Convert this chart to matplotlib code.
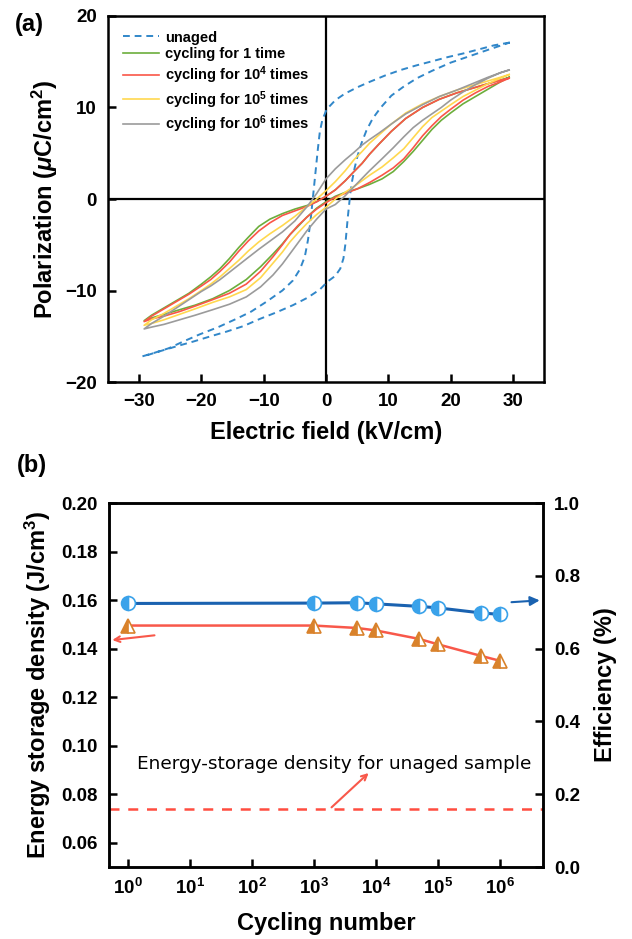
import numpy as np
import matplotlib
matplotlib.use('Agg')
import matplotlib.pyplot as plt

plt.rcParams['font.family'] = ['Liberation Sans', 'DejaVu Sans']
plt.rcParams['mathtext.fontset'] = 'custom'
plt.rcParams['mathtext.rm'] = 'Liberation Sans:bold'
plt.rcParams['mathtext.bf'] = 'Liberation Sans:bold'
plt.rcParams['mathtext.it'] = 'Liberation Sans:bold:italic'

# ---------------- (a) P-E loops ----------------
# unaged: descending branch, then ascending branch
E_unaged_dn = [29.5, 27.0, 24.8, 22.0, 19.5, 17.3, 14.5, 12.0, 9.5, 7.0, 5.0, 3.0, 1.5, 0.1, -0.6, -1.0, -1.3, -1.6,
               -1.9, -2.2, -2.5, -2.9, -3.4, -4.2, -5.3, -7.0, -9.5, -12.0, -14.4, -17.3, -20.3, -23.0, -25.2, -27.5, -29.5]
P_unaged_dn = [17.1, 16.8, 16.4, 15.9, 15.5, 15.1, 14.6, 14.1, 13.5, 12.8, 12.2, 11.5, 10.8, 9.8, 8.6, 7.3, 5.5, 3.5,
               1.5, -0.5, -2.5, -4.5, -6.3, -7.7, -8.9, -10.0, -11.2, -12.3, -13.1, -14.0, -14.8, -15.6, -16.3, -16.8, -17.2]
E_unaged_up = [-29.5, -28.4, -26.0, -23.5, -21.4, -18.5, -16.0, -13.3, -10.6, -8.0, -5.3, -3.0, -1.0, 0.3, 1.5, 2.3,
               2.8, 3.1, 3.3, 3.5, 3.7, 3.9, 4.2, 4.6, 5.1, 5.7, 6.5, 7.5, 8.8, 10.5, 12.5, 14.6, 17.0, 20.0, 23.0, 26.0, 29.5]
P_unaged_up = [-17.2, -17.0, -16.5, -16.0, -15.6, -15.0, -14.5, -13.9, -13.1, -12.4, -11.6, -10.8, -9.9, -9.0, -8.4, -7.6,
               -6.5, -5.0, -3.5, -2.0, -0.7, 0.6, 2.0, 3.4, 4.8, 6.1, 7.5, 8.8, 10.0, 11.3, 12.3, 13.2, 14.0, 14.9, 15.6, 16.3, 17.1]

# shared field readings for the slim loops
E_dn = [29.4, 28.0, 26.0, 23.5, 21.0, 18.2, 15.5, 12.8, 10.5, 8.5, 7.0, 5.8, 4.5, 3.1, 1.5, 0.0, -1.5, -3.0, -5.0, -7.0,
        -9.0, -10.8, -12.5, -14.0, -15.5, -17.0, -18.5, -20.0, -22.0, -24.0, -26.0, -28.0, -29.2]
E_up = [-29.2, -28.0, -26.0, -23.5, -21.0, -18.2, -15.5, -12.8, -10.5, -8.5, -7.0, -5.8, -4.5, -3.1, -1.5, 0.0, 1.5, 3.0,
        5.0, 7.0, 9.0, 10.8, 12.5, 14.0, 15.5, 17.0, 18.5, 20.0, 22.0, 24.0, 26.0, 28.0, 29.4]

# cycling for 1 time
P_g_dn = [13.3, 13.0, 12.6, 12.1, 11.6, 10.9, 10.0, 8.8, 7.4, 6.0, 4.9, 3.9, 3.0, 2.0, 1.0, 0.3, -0.3, -0.7, -1.1, -1.6,
          -2.2, -3.0, -4.2, -5.3, -6.5, -7.6, -8.5, -9.3, -10.3, -11.1, -11.9, -12.7, -13.3]
P_g_up = [-13.3, -13.0, -12.6, -12.1, -11.6, -10.9, -10.0, -8.8, -7.4, -6.0, -4.9, -3.9, -3.0, -2.0, -1.0, -0.3, 0.3, 0.7,
          1.1, 1.6, 2.2, 3.0, 4.1, 5.2, 6.4, 7.6, 8.6, 9.4, 10.4, 11.2, 12.0, 12.8, 13.3]

# cycling for 10^4 times
P_r_dn = [13.2, 13.0, 12.6, 12.1, 11.6, 10.9, 10.0, 8.8, 7.4, 6.0, 4.9, 3.9, 3.0, 2.0, 1.0, 0.3, -0.3, -0.8, -1.3, -1.8,
          -2.6, -3.5, -4.6, -5.7, -6.9, -7.9, -8.8, -9.5, -10.4, -11.2, -12.0, -12.8, -13.4]
P_r_up = [-13.4, -13.1, -12.8, -12.3, -11.7, -11.0, -10.3, -9.3, -7.9, -6.3, -5.0, -3.9, -2.9, -2.0, -1.1, -0.4, 0.2, 0.6,
          1.1, 1.8, 2.6, 3.4, 4.4, 5.6, 6.9, 8.0, 9.0, 9.8, 10.8, 11.6, 12.3, 12.8, 13.2]

# cycling for 10^5 times
P_y_dn = [13.6, 13.3, 12.9, 12.4, 11.9, 11.2, 10.4, 9.4, 8.2, 7.0, 6.1, 5.2, 4.3, 3.1, 1.9, 0.9, 0.0, -0.8, -1.9, -2.9,
          -3.8, -4.7, -5.7, -6.7, -7.6, -8.5, -9.3, -10.0, -10.9, -11.7, -12.5, -13.2, -13.8]
P_y_up = [-13.8, -13.6, -13.2, -12.6, -12.0, -11.3, -10.7, -9.9, -8.6, -7.0, -5.8, -4.7, -3.7, -2.7, -1.7, -0.9, 0.0, 0.7,
          1.6, 2.6, 3.5, 4.5, 5.5, 6.7, 7.9, 8.9, 9.6, 10.3, 11.2, 11.9, 12.6, 13.2, 13.6]

# cycling for 10^6 times
P_k_dn = [14.1, 13.8, 13.3, 12.6, 11.9, 11.2, 10.3, 9.3, 8.2, 7.2, 6.5, 5.9, 5.1, 4.3, 3.3, 2.2, 0.6, -0.8, -2.4, -3.6,
          -4.6, -5.5, -6.4, -7.2, -8.0, -8.8, -9.5, -10.1, -11.0, -11.9, -12.8, -13.6, -14.2]
P_k_up = [-14.2, -14.0, -13.7, -13.2, -12.7, -12.1, -11.5, -10.7, -9.6, -8.3, -7.1, -6.0, -4.8, -3.5, -2.2, -1.1, -0.6, 0.3,
          1.7, 3.1, 4.4, 5.6, 6.8, 7.8, 8.6, 9.3, 10.0, 10.8, 11.7, 12.5, 13.2, 13.8, 14.1]

# ---------------- (b) fatigue ----------------
cycles = [1, 1e3, 5e3, 1e4, 5e4, 1e5, 5e5, 1e6]
density = [0.1495, 0.1495, 0.1485, 0.1475, 0.1440, 0.1418, 0.1370, 0.1350]
efficiency = [0.724, 0.725, 0.726, 0.723, 0.716, 0.712, 0.698, 0.694]
density_unaged = 0.074

fig = plt.figure(figsize=(6.32, 9.39), dpi=100)

# ---- panel a
ax1 = fig.add_axes([108/632, 1-382/939, 436/632, 366/939])
ax1.plot(E_unaged_dn + E_unaged_up, P_unaged_dn + P_unaged_up, '--', color='#3187c9', lw=1.4,
         dashes=(3.5, 2.5), label='unaged')
ax1.plot(E_dn + E_up, P_g_dn + P_g_up, '-', color='#6cae3c', lw=1.2, label='cycling for 1 time')
ax1.plot(E_dn + E_up, P_r_dn + P_r_up, '-', color='#fa5648', lw=1.2, label='cycling for 10$^4$ times')
ax1.plot(E_dn + E_up, P_y_dn + P_y_up, '-', color='#ffd84f', lw=1.2, label='cycling for 10$^5$ times')
ax1.plot(E_dn + E_up, P_k_dn + P_k_up, '-', color='#9b9b9b', lw=1.2, label='cycling for 10$^6$ times')
ax1.axhline(0, color='black', lw=1.6, zorder=0)
ax1.axvline(0, color='black', lw=1.6, zorder=0)
ax1.set_xlim(-35, 35)
ax1.set_ylim(-20, 20)
ax1.set_xticks([-30, -20, -10, 0, 10, 20, 30])
ax1.set_xticklabels(['\u221230', '\u221220', '\u221210', '0', '10', '20', '30'])
ax1.set_yticks([-20, -10, 0, 10, 20])
ax1.set_yticklabels(['\u221220', '\u221210', '0', '10', '20'])
ax1.tick_params(direction='in', length=6, width=1.8, labelsize=13.5, pad=8)
for s in ax1.spines.values():
    s.set_linewidth(1.8)
for lab in ax1.get_xticklabels() + ax1.get_yticklabels():
    lab.set_fontweight('bold')
ax1.set_xlabel('Electric field (kV/cm)', fontsize=17, fontweight='bold', labelpad=8)
ax1.set_ylabel('Polarization ($\\mu$C/cm$^2$)', fontsize=17, fontweight='bold', labelpad=4)
leg = ax1.legend(loc='upper left', frameon=False, prop={'weight': 'bold', 'size': 10.5},
                 handlelength=2.5, labelspacing=0.2, borderaxespad=0.6, handletextpad=0.4)
fig.text(15/632, 1-25/939, '(a)', fontsize=17, fontweight='bold', va='center')

# ---- panel b
ax2 = fig.add_axes([109/632, 1-867/939, 434/632, 364/939])
ax3 = ax2.twinx()
ax2.plot(cycles, density, '-', color='#f8584a', lw=1.8, marker='^', ms=10,
         fillstyle='left', markerfacecolor='#d9822b', markerfacecoloralt='white',
         markeredgecolor='#d9822b', markeredgewidth=1.2, zorder=3)
ax2.axhline(density_unaged, color='#ff4d40', lw=1.8, ls=(0, (4, 3.5)))
ax3.plot(cycles, efficiency, '-', color='#1a62b0', lw=2.2, marker='o', ms=10,
         fillstyle='left', markerfacecolor='#3aa2ea', markerfacecoloralt='white',
         markeredgecolor='#3aa2ea', markeredgewidth=1.2, zorder=3)
ax2.set_xscale('log')
ax2.set_xlim(0.5, 5e6)
ax2.set_ylim(0.05, 0.20)
ax3.set_ylim(0, 1.0)
ax2.set_xticks([1, 10, 100, 1e3, 1e4, 1e5, 1e6])
ax2.set_xticklabels(['$\\mathbf{10^{%d}}$' % i for i in range(7)])
ax2.minorticks_off()
ax2.set_yticks([0.06, 0.08, 0.10, 0.12, 0.14, 0.16, 0.18, 0.20])
ax2.set_yticklabels(['0.06', '0.08', '0.10', '0.12', '0.14', '0.16', '0.18', '0.20'])
ax3.set_yticks([0, 0.2, 0.4, 0.6, 0.8, 1.0])
ax3.set_yticklabels(['0.0', '0.2', '0.4', '0.6', '0.8', '1.0'])
for a in (ax2, ax3):
    a.tick_params(direction='in', length=6, width=1.8, labelsize=13.5, pad=8)
    for s in a.spines.values():
        s.set_linewidth(1.8)
for lab in ax2.get_yticklabels() + ax3.get_yticklabels():
    lab.set_fontweight('bold')
ax2.set_xlabel('Cycling number', fontsize=17, fontweight='bold', labelpad=10)
ax2.set_ylabel('Energy storage density (J/cm$^3$)', fontsize=17, fontweight='bold', labelpad=6)
ax3.set_ylabel('Efficiency (%)', fontsize=17, fontweight='bold', labelpad=10)

ax2.text(1.4, 0.0926, 'Energy-storage density for unaged sample', fontsize=13.3,
         family=['DejaVu Sans'], va='center', ha='left')
ax2.annotate('', xy=(8300, 0.0895), xytext=(1800, 0.0738),
             arrowprops=dict(arrowstyle='->', color='#f8584a', lw=1.5))
ax2.annotate('', xy=(0.51, 0.1434), xytext=(3.0, 0.1456),
             arrowprops=dict(arrowstyle='->', color='#f8584a', lw=1.5))
ax3.annotate('', xy=(4.9e6, 0.733), xytext=(1.4e6, 0.727),
             arrowprops=dict(arrowstyle='-|>', color='#1a62b0', lw=1.5, mutation_scale=14))
fig.text(17/632, 1-466/939, '(b)', fontsize=17, fontweight='bold', va='center')

fig.savefig('out.png', dpi=100)
